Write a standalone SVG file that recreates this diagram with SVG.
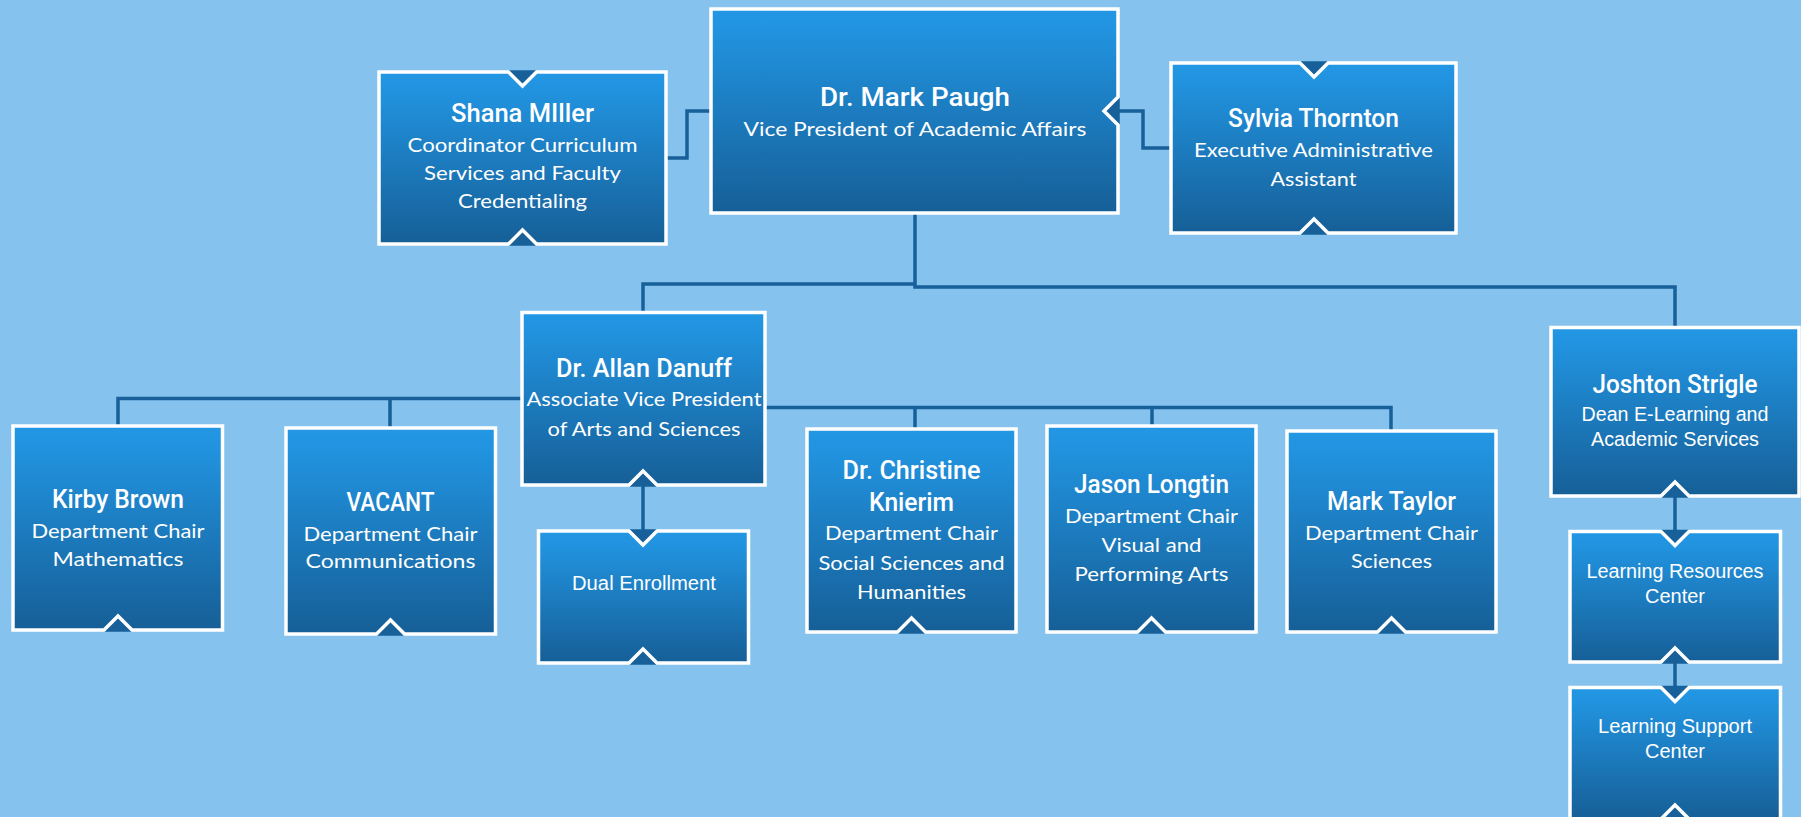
<svg xmlns="http://www.w3.org/2000/svg" width="1801" height="817" viewBox="0 0 1801 817">
<defs>
<linearGradient id="bg" x1="0" y1="0" x2="0" y2="1">
<stop offset="0" stop-color="#2397e5"/>
<stop offset="0.12" stop-color="#2192de"/>
<stop offset="1" stop-color="#165f97"/>
</linearGradient>
<style>
.box{fill:url(#bg);stroke:#fff;stroke-width:3.5;stroke-linejoin:miter}
.tri{fill:#17609a}
.ln{fill:none;stroke:#17609a;stroke-width:3.5}
.nm{font-family:Roboto,"Liberation Sans",sans-serif;font-weight:500;font-size:25px;fill:#fff;text-anchor:middle}
.sb{font-family:Lato,"Liberation Sans",sans-serif;font-size:20px;fill:#fff;text-anchor:middle}
.fb{font-family:"Liberation Sans",Arial,sans-serif;font-size:20px;fill:#fff;text-anchor:middle}
</style>
</defs>
<rect width="1801" height="817" fill="#85c3ee"/>
<g id="connectors">
<path class="ln" d="M915 213 V287 H1675 V328"/>
<path class="ln" d="M915 284 H643 V313"/>
<path class="ln" d="M522 398.5 H118 V426 M390 398.5 V428"/>
<path class="ln" d="M765 407.5 H1391 V431 M915 407.5 V429 M1152 407.5 V426"/>
<path class="ln" d="M643 472 V545"/>
<path class="ln" d="M666 158 H687 V111 H711"/>
<path class="ln" d="M1171 148 H1143 V111 H1110"/>
<path class="ln" d="M1675 482 V545"/>
<path class="ln" d="M1675 648 V701"/>
</g>
<g id="node-vp">
<polygon class="tri" points="1119.75,97 1119.75,125 1104,111"/>
<path class="box" d="M711 9 H1118 V97 L1104 111 L1118 125 V213 H711 Z"/>
<text class="nm" x="915" y="106" font-size="26" textLength="190" lengthAdjust="spacingAndGlyphs">Dr. Mark Paugh</text>
<text class="sb" x="915" y="136" textLength="343" lengthAdjust="spacingAndGlyphs">Vice President of Academic Affairs</text>
</g>
<g id="node-shana">
<polygon class="tri" points="508.5,70.25 536.5,70.25 522.5,86"/>
<polygon class="tri" points="508.5,245.75 536.5,245.75 522.5,230"/>
<path class="box" d="M379 72 H508.5 L522.5 86 L536.5 72 H666 V244 H536.5 L522.5 230 L508.5 244 H379 Z"/>
<text class="nm" x="522.5" y="122" textLength="143" lengthAdjust="spacingAndGlyphs">Shana MIller</text>
<text class="sb" x="522.5" y="152" textLength="230" lengthAdjust="spacingAndGlyphs">Coordinator Curriculum</text>
<text class="sb" x="522.5" y="180" textLength="197" lengthAdjust="spacingAndGlyphs">Services and Faculty</text>
<text class="sb" x="522.5" y="208" textLength="129" lengthAdjust="spacingAndGlyphs">Credentialing</text>
</g>
<g id="node-sylvia">
<polygon class="tri" points="1300,61.25 1328,61.25 1314,77"/>
<polygon class="tri" points="1300,234.75 1328,234.75 1314,219"/>
<path class="box" d="M1171 63 H1300 L1314 77 L1328 63 H1456 V233 H1328 L1314 219 L1300 233 H1171 Z"/>
<text class="nm" x="1313.5" y="127" textLength="171" lengthAdjust="spacingAndGlyphs">Sylvia Thornton</text>
<text class="sb" x="1313.5" y="157" textLength="239" lengthAdjust="spacingAndGlyphs">Executive Administrative</text>
<text class="sb" x="1313.5" y="186" textLength="86" lengthAdjust="spacingAndGlyphs">Assistant</text>
</g>
<g id="node-danuff">
<polygon class="tri" points="629,486.75 657,486.75 643,471"/>
<path class="box" d="M522 312.5 H765 V485 H657 L643 471 L629 485 H522 Z"/>
<text class="nm" x="644" y="377" textLength="176" lengthAdjust="spacingAndGlyphs">Dr. Allan Danuff</text>
<text class="sb" x="644" y="406" textLength="235" lengthAdjust="spacingAndGlyphs">Associate Vice President</text>
<text class="sb" x="644" y="436" textLength="193" lengthAdjust="spacingAndGlyphs">of Arts and Sciences</text>
</g>
<g id="node-dual">
<polygon class="tri" points="629,529.25 657,529.25 643,545"/>
<polygon class="tri" points="629,664.75 657,664.75 643,649"/>
<path class="box" d="M538.5 531 H629 L643 545 L657 531 H748.5 V663 H657 L643 649 L629 663 H538.5 Z"/>
<text class="fb" x="644" y="590" textLength="144" lengthAdjust="spacingAndGlyphs">Dual Enrollment</text>
</g>
<g id="node-kirby">
<polygon class="tri" points="104,631.75 132,631.75 118,616"/>
<path class="box" d="M13 426 H222.5 V630 H132 L118 616 L104 630 H13 Z"/>
<text class="nm" x="118" y="508" textLength="132" lengthAdjust="spacingAndGlyphs">Kirby Brown</text>
<text class="sb" x="118" y="538" textLength="173" lengthAdjust="spacingAndGlyphs">Department Chair</text>
<text class="sb" x="118" y="566" textLength="131" lengthAdjust="spacingAndGlyphs">Mathematics</text>
</g>
<g id="node-vacant">
<polygon class="tri" points="376.5,635.75 404.5,635.75 390.5,620"/>
<path class="box" d="M286 428 H495.5 V634 H404.5 L390.5 620 L376.5 634 H286 Z"/>
<text class="nm" x="390.5" y="511" textLength="88" lengthAdjust="spacingAndGlyphs">VACANT</text>
<text class="sb" x="390.5" y="541" textLength="174" lengthAdjust="spacingAndGlyphs">Department Chair</text>
<text class="sb" x="390.5" y="568" textLength="170" lengthAdjust="spacingAndGlyphs">Communications</text>
</g>
<g id="node-christine">
<polygon class="tri" points="897.5,633.75 925.5,633.75 911.5,618"/>
<path class="box" d="M807 429 H1016 V632 H925.5 L911.5 618 L897.5 632 H807 Z"/>
<text class="nm" x="911.5" y="479" textLength="138" lengthAdjust="spacingAndGlyphs">Dr. Christine</text>
<text class="nm" x="911.5" y="511" textLength="85" lengthAdjust="spacingAndGlyphs">Knierim</text>
<text class="sb" x="911.5" y="540" textLength="173" lengthAdjust="spacingAndGlyphs">Department Chair</text>
<text class="sb" x="911.5" y="570" textLength="186" lengthAdjust="spacingAndGlyphs">Social Sciences and</text>
<text class="sb" x="911.5" y="599" textLength="109" lengthAdjust="spacingAndGlyphs">Humanities</text>
</g>
<g id="node-jason">
<polygon class="tri" points="1137.5,633.75 1165.5,633.75 1151.5,618"/>
<path class="box" d="M1047 426 H1256 V632 H1165.5 L1151.5 618 L1137.5 632 H1047 Z"/>
<text class="nm" x="1151.5" y="493" textLength="155" lengthAdjust="spacingAndGlyphs">Jason Longtin</text>
<text class="sb" x="1151.5" y="523" textLength="173" lengthAdjust="spacingAndGlyphs">Department Chair</text>
<text class="sb" x="1151.5" y="552" textLength="100" lengthAdjust="spacingAndGlyphs">Visual and</text>
<text class="sb" x="1151.5" y="581" textLength="154" lengthAdjust="spacingAndGlyphs">Performing Arts</text>
</g>
<g id="node-taylor">
<polygon class="tri" points="1377.5,633.75 1405.5,633.75 1391.5,618"/>
<path class="box" d="M1287 431 H1496 V632 H1405.5 L1391.5 618 L1377.5 632 H1287 Z"/>
<text class="nm" x="1391.5" y="510" textLength="129" lengthAdjust="spacingAndGlyphs">Mark Taylor</text>
<text class="sb" x="1391.5" y="540" textLength="173" lengthAdjust="spacingAndGlyphs">Department Chair</text>
<text class="sb" x="1391.5" y="568" textLength="81" lengthAdjust="spacingAndGlyphs">Sciences</text>
</g>
<g id="node-joshton">
<polygon class="tri" points="1661,497.75 1689,497.75 1675,482"/>
<path class="box" d="M1551 327.5 H1799 V496 H1689 L1675 482 L1661 496 H1551 Z"/>
<text class="nm" x="1675" y="393" textLength="165" lengthAdjust="spacingAndGlyphs">Joshton Strigle</text>
<text class="fb" x="1675" y="421" textLength="187" lengthAdjust="spacingAndGlyphs">Dean E-Learning and</text>
<text class="fb" x="1675" y="446" textLength="168" lengthAdjust="spacingAndGlyphs">Academic Services</text>
</g>
<g id="node-lrc">
<polygon class="tri" points="1661,529.75 1689,529.75 1675,545.5"/>
<polygon class="tri" points="1661,663.75 1689,663.75 1675,648"/>
<path class="box" d="M1570 531.5 H1661 L1675 545.5 L1689 531.5 H1780.5 V662 H1689 L1675 648 L1661 662 H1570 Z"/>
<text class="fb" x="1675" y="578" textLength="177" lengthAdjust="spacingAndGlyphs">Learning Resources</text>
<text class="fb" x="1675" y="603" textLength="60" lengthAdjust="spacingAndGlyphs">Center</text>
</g>
<g id="node-lsc">
<polygon class="tri" points="1661,685.75 1689,685.75 1675,701.5"/>
<polygon class="tri" points="1661,820.75 1689,820.75 1675,805"/>
<path class="box" d="M1570 687.5 H1661 L1675 701.5 L1689 687.5 H1780.5 V819 H1689 L1675 805 L1661 819 H1570 Z"/>
<text class="fb" x="1675" y="733" textLength="154" lengthAdjust="spacingAndGlyphs">Learning Support</text>
<text class="fb" x="1675" y="758" textLength="60" lengthAdjust="spacingAndGlyphs">Center</text>
</g>
</svg>
